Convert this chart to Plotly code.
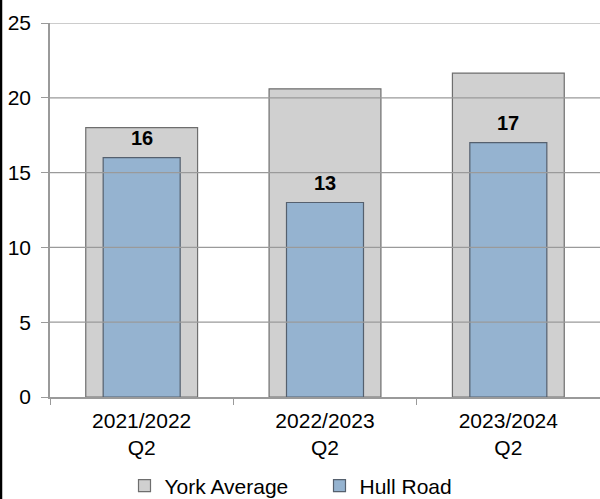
import plotly.graph_objects as go

categories = ["2021/2022<br>Q2", "2022/2023<br>Q2", "2023/2024<br>Q2"]
york_average = [18.0, 20.6, 21.65]
hull_road = [16, 13, 17]
y_ticks = [0, 5, 10, 15, 20, 25]

font = "Liberation Sans, Arial, sans-serif"
grid_col = "#9a9a9a"

fig = go.Figure()
fig.add_trace(go.Bar(
    x=categories, y=york_average, name="York Average", width=0.61,
    marker=dict(color="#d0d0d0", line=dict(color="#6e6e6e", width=1.2)),
))
fig.add_trace(go.Bar(
    x=categories, y=hull_road, name="Hull Road", width=0.42,
    marker=dict(color="#95b3d0", line=dict(color="#55606e", width=1.2)),
))

# value labels above the Hull Road bars
for cat, val in zip(categories, hull_road):
    fig.add_annotation(x=cat, y=val, text=f"<b>{val}</b>", showarrow=False,
                       yshift=20, font=dict(size=20, color="black", family=font))

# gridlines sit over the bars in the original
for t in y_ticks[1:]:
    fig.add_shape(type="line", xref="paper", yref="y", x0=0, x1=1, y0=t, y1=t,
                  line=dict(color=grid_col, width=1.2), layer="above")

# black border on the left edge of the image
fig.add_shape(type="line", xref="paper", yref="paper", x0=-49 / 550, x1=-49 / 550,
              y0=-2, y1=2, line=dict(color="black", width=2.5), layer="above")

fig.update_layout(
    width=600, height=499,
    margin=dict(l=50, r=0, t=23, b=102),
    barmode="overlay",
    plot_bgcolor="white", paper_bgcolor="white",
    font=dict(family=font, size=21, color="black"),
    showlegend=True,
    legend=dict(orientation="h", x=0.49, xanchor="center", yref="container",
                y=0.026, yanchor="middle", font=dict(size=21), itemwidth=30,
                entrywidth=150, traceorder="normal"),
    xaxis=dict(showline=True, linecolor=grid_col, linewidth=1.5, ticks="outside",
               tickson="boundaries", ticklen=6, tickcolor=grid_col, showgrid=False,
               tickfont=dict(size=21), ticklabelstandoff=4, automargin=False),
    yaxis=dict(range=[0, 25], tickvals=y_ticks, showline=True, linecolor=grid_col,
               linewidth=1.5, ticks="outside", ticklen=7, tickcolor=grid_col,
               showgrid=False, zeroline=False, tickfont=dict(size=21),
               ticklabelstandoff=6, automargin=False),
)

# drop the page's default body margin so the figure sits at the window corner
fig.write_html("out.html", config={"displayModeBar": False},
               post_script="document.body.style.margin='0px';")
